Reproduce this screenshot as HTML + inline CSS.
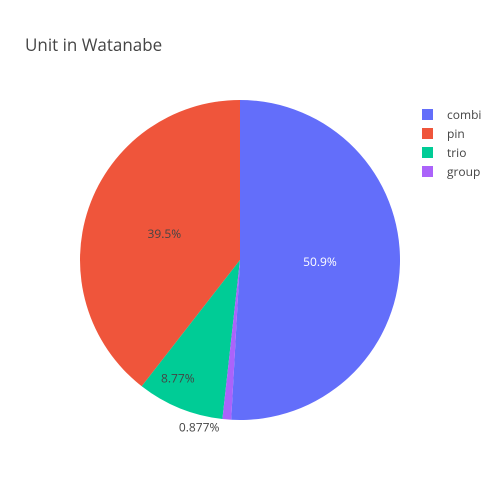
<!DOCTYPE html>
<html><head><meta charset="utf-8"><style>
body{margin:0;background:#fff;}
svg{display:block;font-family:"Open Sans","Liberation Sans",sans-serif;}
</style></head><body>
<svg id="chart" width="500" height="500" viewBox="0 0 500 500">
<rect width="500" height="500" fill="#fff"/>
<text x="25" y="51" font-size="17" fill="#444">Unit in Watanabe</text>
<g id="slices"></g><g id="labels"></g><g id="legend"></g>
</svg>
<script>
const categories = ["combi","pin","trio","group"];
const counts = [58,45,10,1];
const colors = ["#636efa","#EF553B","#00cc96","#ab63fa"];
const textColors = ["#fff","#444","#444","#444"];
const NS="http://www.w3.org/2000/svg";
const cx=240, cy=260, r=160;
const total=counts.reduce((a,b)=>a+b,0);
function pt(frac,rad){const a=frac*2*Math.PI;return [cx+rad*Math.sin(a), cy-rad*Math.cos(a)];}
function fmt(p){let v=p*100;let s=Number(v.toPrecision(3)).toString();return s+"%";}
const start=counts[0]/total;
let cum=0;
const gS=document.getElementById('slices'),gL=document.getElementById('labels'),gG=document.getElementById('legend');
counts.forEach((c,i)=>{
  const frac=c/total;
  const fA=start-cum/total, fB=fA-frac; cum+=c;
  const p0=pt(fB,r),p1=pt(fA,r);
  const large=frac>0.5?1:0;
  const path=document.createElementNS(NS,'path');
  path.setAttribute('d',`M${cx},${cy}L${p0[0]},${p0[1]}A${r},${r} 0 ${large} 1 ${p1[0]},${p1[1]}Z`);
  path.setAttribute('fill',colors[i]);
  
  
  gS.appendChild(path);
  const mid=(fA+fB)/2;
  const t=document.createElementNS(NS,'text');
  t.setAttribute('font-size','12');t.setAttribute('text-anchor','middle');
  let lp;
  if(frac<0.03){
    const b=pt(mid,r+8);
    lp=[b[0]-27,b[1]];t.setAttribute('fill','#444');
  } else if(frac>0.2){
    lp=pt(mid,r*0.5);t.setAttribute('fill',textColors[i]);
  } else {
    const q=pt(mid,r*0.8);lp=[q[0]-14,q[1]];t.setAttribute('fill',textColors[i]);
  }
  t.setAttribute('x',lp[0]);t.setAttribute('y',lp[1]+4);
  t.textContent=fmt(frac);
  
  
  gL.appendChild(t);
  const y=115+i*19;
  const sq=document.createElementNS(NS,'rect');
  sq.setAttribute('x',422);sq.setAttribute('y',y-6);sq.setAttribute('width',11);sq.setAttribute('height',11);sq.setAttribute('fill',colors[i]);
  
  
  gG.appendChild(sq);
  const lt=document.createElementNS(NS,'text');
  lt.setAttribute('x',447);lt.setAttribute('y',y+4);lt.setAttribute('font-size','12');lt.setAttribute('fill','#444');
  lt.textContent=categories[i];
  
  
  gG.appendChild(lt);
});
</script>
</body></html>
